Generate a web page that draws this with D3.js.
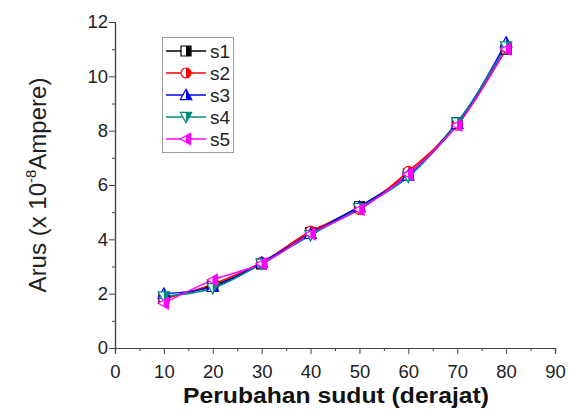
<!DOCTYPE html>
<html><head><meta charset="utf-8">
<script src="https://cdn.jsdelivr.net/npm/d3@7"></script>
<style>body{margin:0;background:#fff}svg{display:block}text{font-family:"Liberation Sans",Arial,sans-serif}</style>
</head><body>
<svg id="c" width="569" height="417"></svg>
<script>
const xValues = [10, 20, 30, 40, 50, 60, 70, 80];
const s1 = [1.85, 2.3, 3.1, 4.25, 5.2, 6.4, 8.3, 11.0];
const s2 = [1.8, 2.35, 3.15, 4.3, 5.1, 6.5, 8.2, 11.05];
const s3 = [2.0, 2.25, 3.15, 4.2, 5.2, 6.35, 8.25, 11.25];
const s4 = [1.9, 2.2, 3.1, 4.15, 5.15, 6.3, 8.3, 11.1];
const s5 = [1.65, 2.5, 3.1, 4.2, 5.1, 6.4, 8.2, 11.0];
const seriesNames = ["s1", "s2", "s3", "s4", "s5"];
const xTicks = [0, 10, 20, 30, 40, 50, 60, 70, 80, 90];
const yTicks = [0, 2, 4, 6, 8, 10, 12];
const colors = ["#000000", "#ff0000", "#0000ff", "#008b80", "#ff00ff"];
const markers = ["square", "circle", "up", "down", "left"];

const series = [s1, s2, s3, s4, s5].map((v, i) => ({name: seriesNames[i], values: v, color: colors[i], marker: markers[i]}));

const svg = d3.select("#c");
const x = d3.scaleLinear().domain([0, 90]).range([115, 555]);
const y = d3.scaleLinear().domain([0, 12]).range([348, 22]);
const axisColor = "#444";

const gx = svg.append("g").attr("transform", `translate(0,${y(0)})`);
gx.call(d3.axisBottom(x).tickValues(d3.range(5, 90, 10)).tickSize(3).tickFormat(""));
gx.append("g").call(d3.axisBottom(x).tickValues(xTicks).tickSize(6).tickFormat(d3.format("d")));
gx.selectAll("path").attr("stroke", axisColor).attr("stroke-width", 1.2);
gx.selectAll("line").attr("stroke", axisColor);
gx.selectAll("text").attr("font-size", 18.5).attr("fill", "#222").attr("dy", "0").attr("y", 30);

const gy = svg.append("g").attr("transform", `translate(${x(0)},0)`);
gy.call(d3.axisLeft(y).tickValues(d3.range(1, 12, 2)).tickSize(3).tickFormat(""));
gy.append("g").call(d3.axisLeft(y).tickValues(yTicks).tickSize(6).tickFormat(d3.format("d")));
gy.selectAll("path").attr("stroke", axisColor).attr("stroke-width", 1.2);
gy.selectAll("line").attr("stroke", axisColor);
gy.selectAll("text").attr("font-size", 18.5).attr("fill", "#222").attr("x", -7);

svg.append("text").attr("x", 336).attr("y", 403).attr("text-anchor", "middle")
  .attr("font-size", 22).attr("font-weight", "bold").attr("fill", "#111")
  .attr("textLength", 306).attr("lengthAdjust", "spacingAndGlyphs").text("Perubahan sudut (derajat)");
const yt = svg.append("text").attr("transform", "translate(46,185) rotate(-90)")
  .attr("text-anchor", "middle").attr("font-size", 24).attr("fill", "#222");
yt.append("tspan").text("Arus (x 10");
yt.append("tspan").attr("font-size", 15).attr("dy", -10).text("-8");
yt.append("tspan").attr("dy", 10).text("Ampere)");

function markerPath(type, s) {
  switch (type) {
    case "square": return {full: `M${-s},${-s}H${s}V${s}H${-s}Z`, half: `M0,${-s}H${s}V${s}H0Z`};
    case "circle": return {full: `M${s},0A${s},${s} 0 1,1 ${-s},0A${s},${s} 0 1,1 ${s},0Z`, half: `M0,${-s}A${s},${s} 0 0,1 0,${s}Z`};
    case "up": { const h = s * 1.15; return {full: `M0,${-h}L${h},${h*0.8}L${-h},${h*0.8}Z`, half: `M0,${-h}L${h},${h*0.8}L0,${h*0.8}Z`}; }
    case "down": { const h = s * 1.15; return {full: `M0,${h}L${h},${-h*0.8}L${-h},${-h*0.8}Z`, half: `M0,${h}L0,${-h*0.8}L${h},${-h*0.8}Z`}; }
    case "left": { const h = s * 1.15; return {full: `M${-h},0L${h*0.8},${-h}L${h*0.8},${h}Z`, half: `M${-h*0.05},${-h*0.55}L${h*0.8},${-h}L${h*0.8},${h}L${-h*0.05},${h*0.55}Z`}; }
  }
}
function drawMarker(g, type, color, cx, cy, s) {
  const p = markerPath(type, s);
  const m = g.append("g").attr("transform", `translate(${cx},${cy})`);
  m.append("path").attr("d", p.full).attr("fill", "#fff").attr("stroke", color).attr("stroke-width", 1.2);
  m.append("path").attr("d", p.half).attr("fill", color).attr("stroke", "none");
}

const line = d3.line().x((d, i) => x(xValues[i])).y(d => y(d)).curve(d3.curveCatmullRom);
const plot = svg.append("g");
series.forEach(s => {
  plot.append("path").attr("d", line(s.values)).attr("fill", "none").attr("stroke", s.color).attr("stroke-width", 1.5);
});
series.forEach(s => {
  s.values.forEach((v, i) => drawMarker(plot, s.marker, s.color, x(xValues[i]), y(v), 5));
});

const lg = svg.append("g");
lg.append("rect").attr("x", 162.5).attr("y", 37.5).attr("width", 71).attr("height", 115)
  .attr("fill", "#fff").attr("stroke", "#999").attr("stroke-width", 1);
series.forEach((s, i) => {
  const ly = 51 + i * 22;
  lg.append("line").attr("x1", 166).attr("x2", 206).attr("y1", ly).attr("y2", ly).attr("stroke", s.color).attr("stroke-width", 1.5);
  drawMarker(lg, s.marker, s.color, 186, ly, 5);
  lg.append("text").attr("x", 210).attr("y", ly).attr("dy", "0.36em").attr("font-size", 19).attr("fill", "#222").text(s.name);
});
</script>
</body></html>
